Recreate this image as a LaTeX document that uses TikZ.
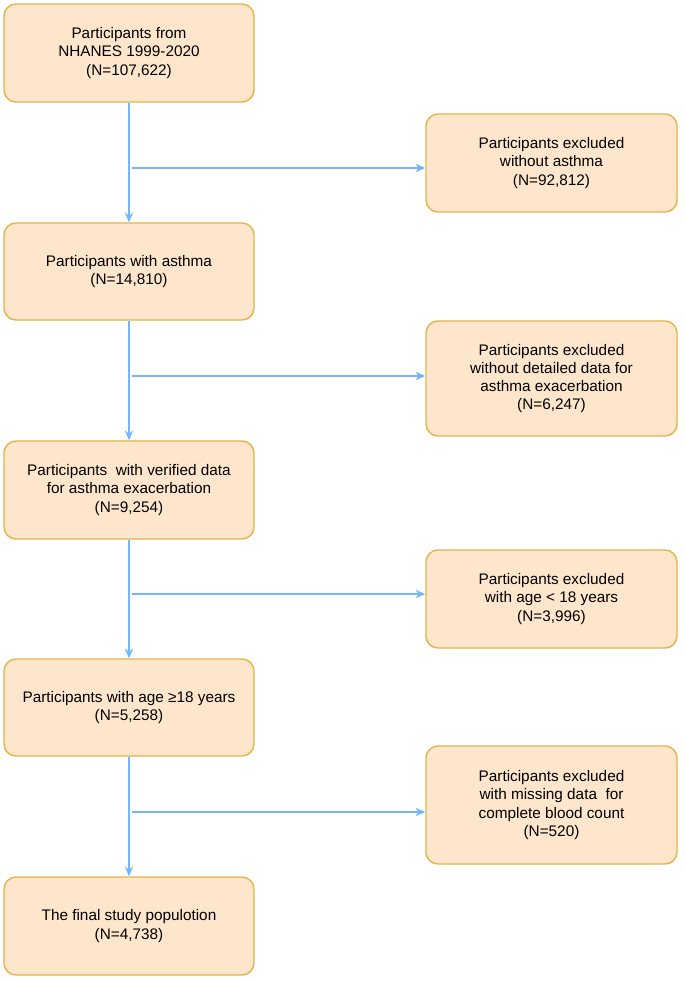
\documentclass[tikz,border=0pt]{standalone}
\usepackage{fontspec}
\setmainfont{Liberation Sans}
\usetikzlibrary{arrows.meta}
\definecolor{boxfill}{HTML}{FDE6CB}
\definecolor{boxline}{HTML}{E2B449}
\definecolor{arrline}{HTML}{74B6F7}
\begin{document}
\begin{tikzpicture}[
    box/.style={rectangle,draw=boxline,fill=boxfill,line width=1pt,rounded corners=0.3cm,
      minimum width=6.25cm,align=center,font=\fontsize{10.9}{13}\selectfont,inner sep=2pt},
    arr/.style={draw=arrline,line width=1pt,-{Stealth[length=7pt,width=6pt]}}]
    \useasboundingbox (0,0) rectangle (17.125,-24.525);
        \node at (3.225,-1.325) [box,minimum height=2.45cm] (c100) {Participants from\\NHANES 1999-2020\\(N=107,622)};
        \node at (3.225,-6.7875) [box,minimum height=2.425cm] (c200) {Participants with asthma\\(N=14,810)};
        \node at (3.225,-12.25) [box,minimum height=2.45cm] (c300) {Participants\ \ with verified data\\for asthma exacerbation\\(N=9,254)};
        \node at (3.225,-17.6875) [box,minimum height=2.425cm] (c400) {Participants with age ≥18 years\\(N=5,258)};
        \node at (3.225,-23.15) [box,minimum height=2.45cm] (c500) {The final study populotion\\(N=4,738)};

        \node at (13.7875,-4.075) [box,minimum width=6.275cm,minimum height=2.45cm] (c150) {Participants excluded\\without asthma\\(N=92,812)};
        \node at (13.7875,-9.4625) [box,minimum width=6.275cm,minimum height=2.875cm] (c250) {Participants excluded\\without detailed data for\\asthma exacerbation\\(N=6,247)};
        \node at (13.7875,-14.975) [box,minimum width=6.275cm,minimum height=2.45cm] (c350) {Participants excluded\\with age < 18 years\\(N=3,996)};
        \node at (13.7875,-20.125) [box,minimum width=6.275cm,minimum height=2.95cm] (c450) {Participants excluded\\with missing data\ \ for\\complete blood count\\(N=520)};

        \coordinate (s150) at (3.3,-4.2);
        \coordinate (s250) at (3.3,-9.4);
        \coordinate (s350) at (3.3,-14.85);
        \coordinate (s450) at (3.3,-20.3);

        \draw[arr] (c100)--(c200);
        \draw[arr] (c200)--(c300);
        \draw[arr] (c300)--(c400);
        \draw[arr] (c400)--(c500);

        \draw[arr] (s150)--(s150-|c150.west);
        \draw[arr] (s250)--(s250-|c250.west);
        \draw[arr] (s350)--(s350-|c350.west);
        \draw[arr] (s450)--(s450-|c450.west);
\end{tikzpicture}
\end{document}
